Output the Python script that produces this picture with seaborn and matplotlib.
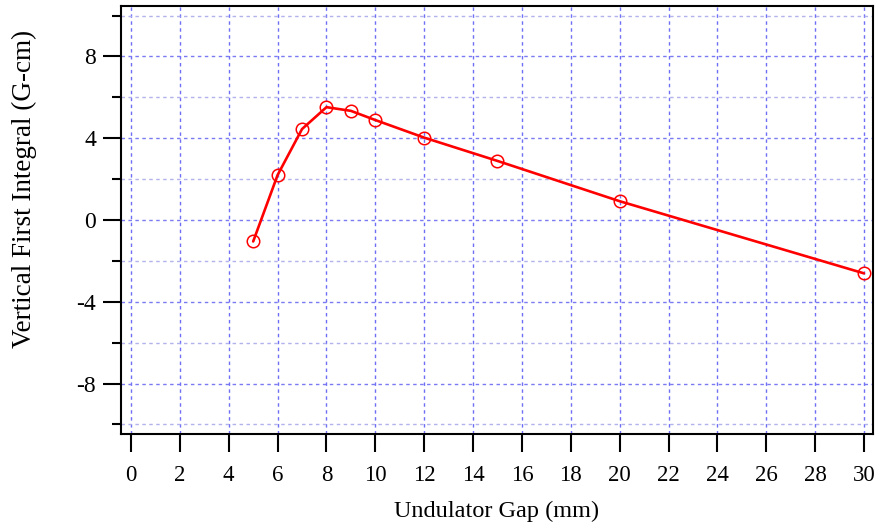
import numpy as np
import pandas as pd
import matplotlib
matplotlib.use("Agg")
import matplotlib.pyplot as plt
from matplotlib.ticker import MultipleLocator
import seaborn as sns

# Vertical first field integral versus undulator gap
gap_mm = [5, 6, 7, 8, 9, 10, 12, 15, 20, 30]
first_integral_gcm = [-1.05, 2.2, 4.45, 5.52, 5.34, 4.89, 4.03, 2.89, 0.92, -2.61]

x_ticks = list(range(0, 31, 2))
y_major = [-8, -4, 0, 4, 8]
y_minor = [-10, -6, -2, 2, 6, 10]

df = pd.DataFrame({"gap": gap_mm, "integral": first_integral_gcm})

sns.set_style("white")
plt.rcParams["font.family"] = ["Liberation Serif", "DejaVu Serif"]
plt.rcParams["text.color"] = "black"
plt.rcParams["axes.labelcolor"] = "black"
plt.rcParams["xtick.color"] = "black"
plt.rcParams["ytick.color"] = "black"

fig = plt.figure(figsize=(8.8, 5.27), dpi=100)
ax = fig.add_axes([121 / 880, 1 - 434 / 527, (873 - 121) / 880, (434 - 6) / 527])

# Dashed grid: every x tick, every 2 units in y (major lines a little stronger)
for xv in x_ticks:
    ax.axvline(xv, color="#6f6ff5", lw=1.0, ls=(0, (2.5, 2.5)), zorder=0)
for yv in y_major:
    ax.axhline(yv, color="#7a7af2", lw=1.0, ls=(0, (2.5, 2.5)), zorder=0)
for yv in y_minor:
    ax.axhline(yv, color="#b2b2ec", lw=1.0, ls=(0, (2.5, 2.5)), zorder=0)

sns.lineplot(data=df, x="gap", y="integral", ax=ax, color="#ff0000", lw=1.9,
             marker="o", markersize=9, markerfacecolor="none",
             markeredgecolor="#ff0000", markeredgewidth=1.1, zorder=3)

ax.set_xlim(-0.41, 30.37)
ax.set_ylim(-10.47, 10.47)
ax.set_xticks(x_ticks)
ax.set_xticklabels([str(v) for v in x_ticks])
ax.set_yticks(y_major)
ax.set_yticklabels([str(v) for v in y_major])
ax.yaxis.set_minor_locator(MultipleLocator(2))

for s in ax.spines.values():
    s.set_linewidth(1.5)
    s.set_color("black")

ax.tick_params(axis="both", which="major", direction="out", length=13,
               width=1.5, colors="black", labelsize=16.5,
               bottom=True, left=True, top=False, right=False)
ax.tick_params(axis="x", which="major", pad=9)
ax.tick_params(axis="y", which="major", pad=5, labelsize=17)
ax.tick_params(axis="y", which="minor", direction="out", length=6.5,
               width=1.5, left=True, right=False, colors="black")
ax.tick_params(axis="x", which="minor", bottom=False, top=False)

ax.set_xlabel("Undulator Gap (mm)", fontsize=17.5, color="black")
ax.set_ylabel("Vertical First Integral (G-cm)", fontsize=19.5, color="black")
ax.xaxis.set_label_coords(0.5, -0.155)
ax.yaxis.set_label_coords(-0.112, 0.572)

fig.savefig("out.png", dpi=100)
